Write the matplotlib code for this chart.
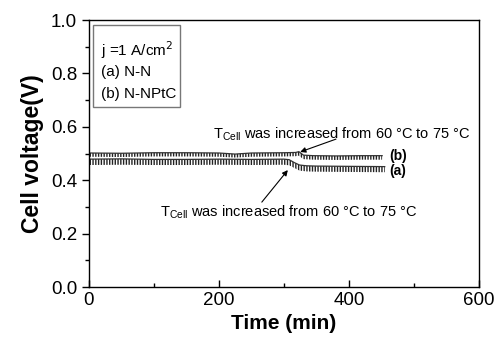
import matplotlib
matplotlib.use("Agg")
import matplotlib.pyplot as plt
from matplotlib.patches import Rectangle
from matplotlib.ticker import MultipleLocator

plt.rcParams['font.family'] = ['Liberation Sans', 'DejaVu Sans']
plt.rcParams['hatch.linewidth'] = 1.0
plt.rcParams['hatch.color'] = '#222222'

# Series (a) N-N : upper envelope and lower (spike) envelope
t_a = [0, 50, 100, 150, 200, 250, 300, 308, 316, 324, 335, 350, 400, 455]
a_top = [0.479, 0.480, 0.478, 0.478, 0.479, 0.478, 0.479, 0.477, 0.466, 0.457, 0.454, 0.453, 0.452, 0.451]
a_bot = [0.457, 0.458, 0.457, 0.457, 0.458, 0.457, 0.458, 0.456, 0.446, 0.436, 0.433, 0.432, 0.431, 0.430]

# Series (b) N-NPtC
t_b = [0, 50, 100, 150, 200, 225, 250, 300, 318, 323, 330, 345, 380, 420, 451]
b_top = [0.502, 0.501, 0.503, 0.503, 0.502, 0.498, 0.502, 0.503, 0.504, 0.507, 0.494, 0.492, 0.491, 0.492, 0.492]
b_bot = [0.488, 0.487, 0.489, 0.489, 0.488, 0.485, 0.488, 0.489, 0.490, 0.492, 0.479, 0.477, 0.476, 0.477, 0.477]

x_ticks = [0, 200, 400, 600]
y_ticks = [0.0, 0.2, 0.4, 0.6, 0.8, 1.0]

fig = plt.figure(figsize=(4.99, 3.46), dpi=100)
ax = fig.add_axes([0.178, 0.1705, 0.782, 0.7715])

for t, top, bot in [(t_a, a_top, a_bot), (t_b, b_top, b_bot)]:
    ax.fill_between(t, bot, top, facecolor='none', edgecolor='#222222',
                    hatch='||||||', linewidth=0)
    ax.plot(t, top, color='#333333', lw=0.9)

ax.set_xlim(0, 600)
ax.set_ylim(0.0, 1.0)
ax.set_xticks(x_ticks)
ax.set_yticks(y_ticks)
ax.set_yticklabels([f"{v:.1f}" for v in y_ticks])
ax.xaxis.set_minor_locator(MultipleLocator(100))
ax.yaxis.set_minor_locator(MultipleLocator(0.1))
ax.tick_params(axis='y', which='both', direction='out', labelsize=13.5)
ax.tick_params(axis='x', which='both', direction='in', labelsize=13.5)
ax.tick_params(which='major', length=5, width=1)
ax.tick_params(which='minor', length=3, width=1)
for s in ax.spines.values():
    s.set_linewidth(1.0)

ax.set_xlabel('Time (min)', fontsize=15, fontweight='bold', labelpad=4)
ax.set_ylabel('Cell voltage(V)', fontsize=16.5, fontweight='bold', labelpad=5)

# legend-like box
ax.add_patch(Rectangle((0.01, 0.674), 0.223, 0.307, transform=ax.transAxes,
                       facecolor='white', edgecolor='#777777', lw=1.0, zorder=3))
ax.text(0.031, 0.888, 'j =1 A/cm$^2$', transform=ax.transAxes, fontsize=11,
        va='center', ha='left', zorder=4)
ax.text(0.031, 0.805, '(a) N-N', transform=ax.transAxes, fontsize=11,
        va='center', ha='left', zorder=4)
ax.text(0.031, 0.723, '(b) N-NPtC', transform=ax.transAxes, fontsize=11,
        va='center', ha='left', zorder=4)

# series labels
ax.text(462, 0.491, '(b)', fontsize=10, fontweight='bold', va='center', ha='left')
ax.text(462, 0.434, '(a)', fontsize=10, fontweight='bold', va='center', ha='left')

label = r'T$_{\mathregular{Cell}}$ was increased from 60 °C to 75 °C'
arrow = dict(arrowstyle='-|>', color='black', lw=0.8, mutation_scale=8,
             shrinkA=0, shrinkB=0)
ax.annotate('', xy=(325, 0.506), xytext=(380, 0.554), arrowprops=arrow)
ax.text(389, 0.573, label, fontsize=10.5, ha='center', va='center')
ax.annotate('', xy=(306, 0.438), xytext=(266, 0.318), arrowprops=arrow)
ax.text(308, 0.281, label, fontsize=10.5, ha='center', va='center')

fig.savefig('out.png', dpi=100)
